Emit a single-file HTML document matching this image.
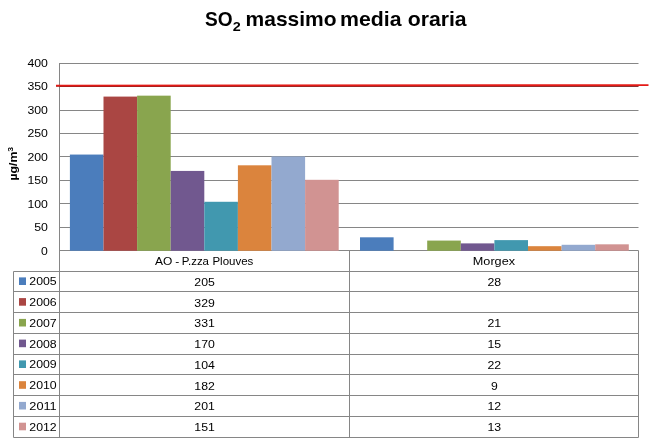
<!DOCTYPE html>
<html lang="it"><head><meta charset="utf-8"><title>SO2 massimo media oraria</title>
<style>html,body{margin:0;padding:0;background:#fff;}svg{display:block;}text{font-family:"Liberation Sans",sans-serif;fill:#000;}</style></head><body>
<svg width="654" height="445" viewBox="0 0 654 445">
<rect width="654" height="445" fill="#fff"/>
<line x1="59.5" y1="227.5" x2="638.5" y2="227.5" stroke="#868686" stroke-width="1"/>
<line x1="59.5" y1="203.5" x2="638.5" y2="203.5" stroke="#868686" stroke-width="1"/>
<line x1="59.5" y1="180.5" x2="638.5" y2="180.5" stroke="#868686" stroke-width="1"/>
<line x1="59.5" y1="156.5" x2="638.5" y2="156.5" stroke="#868686" stroke-width="1"/>
<line x1="59.5" y1="133.5" x2="638.5" y2="133.5" stroke="#868686" stroke-width="1"/>
<line x1="59.5" y1="110.5" x2="638.5" y2="110.5" stroke="#868686" stroke-width="1"/>
<line x1="59.5" y1="86.5" x2="638.5" y2="86.5" stroke="#a04040" stroke-width="1"/>
<line x1="59.5" y1="63.5" x2="638.5" y2="63.5" stroke="#868686" stroke-width="1"/>
<line x1="59.5" y1="63" x2="59.5" y2="437.5" stroke="#868686"/>
<line x1="59.5" y1="250.5" x2="638.5" y2="250.5" stroke="#868686"/>
<rect x="69.90" y="154.56" width="33.6" height="96.19" fill="#4B7DBC"/>
<rect x="103.50" y="96.59" width="33.6" height="154.16" fill="#AA4643"/>
<rect x="137.10" y="95.66" width="33.6" height="155.09" fill="#89A54E"/>
<rect x="170.70" y="170.93" width="33.6" height="79.82" fill="#71588F"/>
<rect x="204.30" y="201.78" width="33.6" height="48.97" fill="#4198AF"/>
<rect x="237.90" y="165.31" width="33.6" height="85.44" fill="#DB843D"/>
<rect x="271.50" y="156.43" width="33.6" height="94.32" fill="#93A9CF"/>
<rect x="305.10" y="179.81" width="33.6" height="70.94" fill="#D19392"/>
<rect x="360.00" y="237.31" width="33.6" height="13.44" fill="#4B7DBC"/>
<rect x="427.20" y="240.58" width="33.6" height="10.17" fill="#89A54E"/>
<rect x="460.80" y="243.39" width="33.6" height="7.36" fill="#71588F"/>
<rect x="494.40" y="240.12" width="33.6" height="10.63" fill="#4198AF"/>
<rect x="528.00" y="246.19" width="33.6" height="4.56" fill="#DB843D"/>
<rect x="561.60" y="244.79" width="33.6" height="5.96" fill="#93A9CF"/>
<rect x="595.20" y="244.32" width="33.6" height="6.43" fill="#D19392"/>
<line x1="349.5" y1="250.5" x2="349.5" y2="437.5" stroke="#868686"/>
<line x1="638.5" y1="250.5" x2="638.5" y2="437.5" stroke="#868686"/>
<line x1="13.5" y1="271.5" x2="13.5" y2="437.5" stroke="#868686"/>
<line x1="13.5" y1="271.5" x2="638.5" y2="271.5" stroke="#868686"/>
<line x1="13.5" y1="291.5" x2="638.5" y2="291.5" stroke="#868686"/>
<line x1="13.5" y1="312.5" x2="638.5" y2="312.5" stroke="#868686"/>
<line x1="13.5" y1="333.5" x2="638.5" y2="333.5" stroke="#868686"/>
<line x1="13.5" y1="354.5" x2="638.5" y2="354.5" stroke="#868686"/>
<line x1="13.5" y1="374.5" x2="638.5" y2="374.5" stroke="#868686"/>
<line x1="13.5" y1="395.5" x2="638.5" y2="395.5" stroke="#868686"/>
<line x1="13.5" y1="416.5" x2="638.5" y2="416.5" stroke="#868686"/>
<line x1="13.5" y1="437.5" x2="638.5" y2="437.5" stroke="#868686"/>
<line x1="56" y1="85.75" x2="648.5" y2="85.1" stroke="#e41a16" stroke-width="1.9"/>
<line x1="56" y1="86.5" x2="638.5" y2="86.5" stroke="#000" stroke-opacity="0.17"/>
<text x="41.0" y="254.9" font-size="11.3" textLength="6.8" lengthAdjust="spacingAndGlyphs">0</text>
<text x="34.2" y="231.4" font-size="11.3" textLength="13.7" lengthAdjust="spacingAndGlyphs">50</text>
<text x="27.4" y="207.8" font-size="11.3" textLength="20.5" lengthAdjust="spacingAndGlyphs">100</text>
<text x="27.4" y="184.3" font-size="11.3" textLength="20.5" lengthAdjust="spacingAndGlyphs">150</text>
<text x="27.4" y="160.8" font-size="11.3" textLength="20.5" lengthAdjust="spacingAndGlyphs">200</text>
<text x="27.4" y="137.2" font-size="11.3" textLength="20.5" lengthAdjust="spacingAndGlyphs">250</text>
<text x="27.4" y="113.7" font-size="11.3" textLength="20.5" lengthAdjust="spacingAndGlyphs">300</text>
<text x="27.4" y="90.2" font-size="11.3" textLength="20.5" lengthAdjust="spacingAndGlyphs">350</text>
<text x="27.4" y="66.7" font-size="11.3" textLength="20.5" lengthAdjust="spacingAndGlyphs">400</text>
<text transform="translate(17.1,180.5) rotate(-90)" font-size="11.8" font-weight="bold"><tspan textLength="28.9" lengthAdjust="spacingAndGlyphs">µg/m</tspan><tspan font-size="8" dy="-3.8">3</tspan></text>
<text x="205" y="26" font-size="20.6" font-weight="bold" lengthAdjust="spacingAndGlyphs" textLength="27.6">SO</text>
<text x="232.7" y="30.6" font-size="13.6" font-weight="bold" lengthAdjust="spacingAndGlyphs" textLength="8">2</text>
<text x="245.6" y="26" font-size="20.6" font-weight="bold" lengthAdjust="spacingAndGlyphs" textLength="91">massimo</text>
<text x="340" y="26" font-size="20.6" font-weight="bold" lengthAdjust="spacingAndGlyphs" textLength="61.5">media</text>
<text x="407.7" y="26" font-size="20.6" font-weight="bold" lengthAdjust="spacingAndGlyphs" textLength="59">oraria</text>
<text x="155.0" y="264.8" font-size="11.3" lengthAdjust="spacingAndGlyphs" textLength="17.3">AO</text>
<text x="175.3" y="264.8" font-size="11.3" lengthAdjust="spacingAndGlyphs" textLength="4.0">-</text>
<text x="181.8" y="264.8" font-size="11.3" lengthAdjust="spacingAndGlyphs" textLength="27.2">P.zza</text>
<text x="212.4" y="264.8" font-size="11.3" lengthAdjust="spacingAndGlyphs" textLength="41.0">Plouves</text>
<text x="472.8" y="264.8" font-size="11.3" lengthAdjust="spacingAndGlyphs" textLength="42.2">Morgex</text>
<rect x="19" y="277.4" width="7" height="7.6" fill="#4B7DBC"/>
<text x="29.3" y="285.3" font-size="11.3" lengthAdjust="spacingAndGlyphs" textLength="27.4">2005</text>
<text x="194.3" y="285.9" font-size="11.3" lengthAdjust="spacingAndGlyphs" textLength="20.5">205</text>
<text x="487.4" y="285.9" font-size="11.3" lengthAdjust="spacingAndGlyphs" textLength="13.7">28</text>
<rect x="19" y="298.1" width="7" height="7.6" fill="#AA4643"/>
<text x="29.3" y="306.0" font-size="11.3" lengthAdjust="spacingAndGlyphs" textLength="27.4">2006</text>
<text x="194.3" y="306.6" font-size="11.3" lengthAdjust="spacingAndGlyphs" textLength="20.5">329</text>
<rect x="19" y="318.9" width="7" height="7.6" fill="#89A54E"/>
<text x="29.3" y="326.8" font-size="11.3" lengthAdjust="spacingAndGlyphs" textLength="27.4">2007</text>
<text x="194.3" y="327.4" font-size="11.3" lengthAdjust="spacingAndGlyphs" textLength="20.5">331</text>
<text x="487.4" y="327.4" font-size="11.3" lengthAdjust="spacingAndGlyphs" textLength="13.7">21</text>
<rect x="19" y="339.6" width="7" height="7.6" fill="#71588F"/>
<text x="29.3" y="347.5" font-size="11.3" lengthAdjust="spacingAndGlyphs" textLength="27.4">2008</text>
<text x="194.3" y="348.1" font-size="11.3" lengthAdjust="spacingAndGlyphs" textLength="20.5">170</text>
<text x="487.4" y="348.1" font-size="11.3" lengthAdjust="spacingAndGlyphs" textLength="13.7">15</text>
<rect x="19" y="360.4" width="7" height="7.6" fill="#4198AF"/>
<text x="29.3" y="368.3" font-size="11.3" lengthAdjust="spacingAndGlyphs" textLength="27.4">2009</text>
<text x="194.3" y="368.9" font-size="11.3" lengthAdjust="spacingAndGlyphs" textLength="20.5">104</text>
<text x="487.4" y="368.9" font-size="11.3" lengthAdjust="spacingAndGlyphs" textLength="13.7">22</text>
<rect x="19" y="381.2" width="7" height="7.6" fill="#DB843D"/>
<text x="29.3" y="389.1" font-size="11.3" lengthAdjust="spacingAndGlyphs" textLength="27.4">2010</text>
<text x="194.3" y="389.7" font-size="11.3" lengthAdjust="spacingAndGlyphs" textLength="20.5">182</text>
<text x="490.9" y="389.7" font-size="11.3" lengthAdjust="spacingAndGlyphs" textLength="6.8">9</text>
<rect x="19" y="401.9" width="7" height="7.6" fill="#93A9CF"/>
<text x="29.3" y="409.8" font-size="11.3" lengthAdjust="spacingAndGlyphs" textLength="27.4">2011</text>
<text x="194.3" y="410.4" font-size="11.3" lengthAdjust="spacingAndGlyphs" textLength="20.5">201</text>
<text x="487.4" y="410.4" font-size="11.3" lengthAdjust="spacingAndGlyphs" textLength="13.7">12</text>
<rect x="19" y="422.7" width="7" height="7.6" fill="#D19392"/>
<text x="29.3" y="430.6" font-size="11.3" lengthAdjust="spacingAndGlyphs" textLength="27.4">2012</text>
<text x="194.3" y="431.2" font-size="11.3" lengthAdjust="spacingAndGlyphs" textLength="20.5">151</text>
<text x="487.4" y="431.2" font-size="11.3" lengthAdjust="spacingAndGlyphs" textLength="13.7">13</text>
</svg></body></html>
